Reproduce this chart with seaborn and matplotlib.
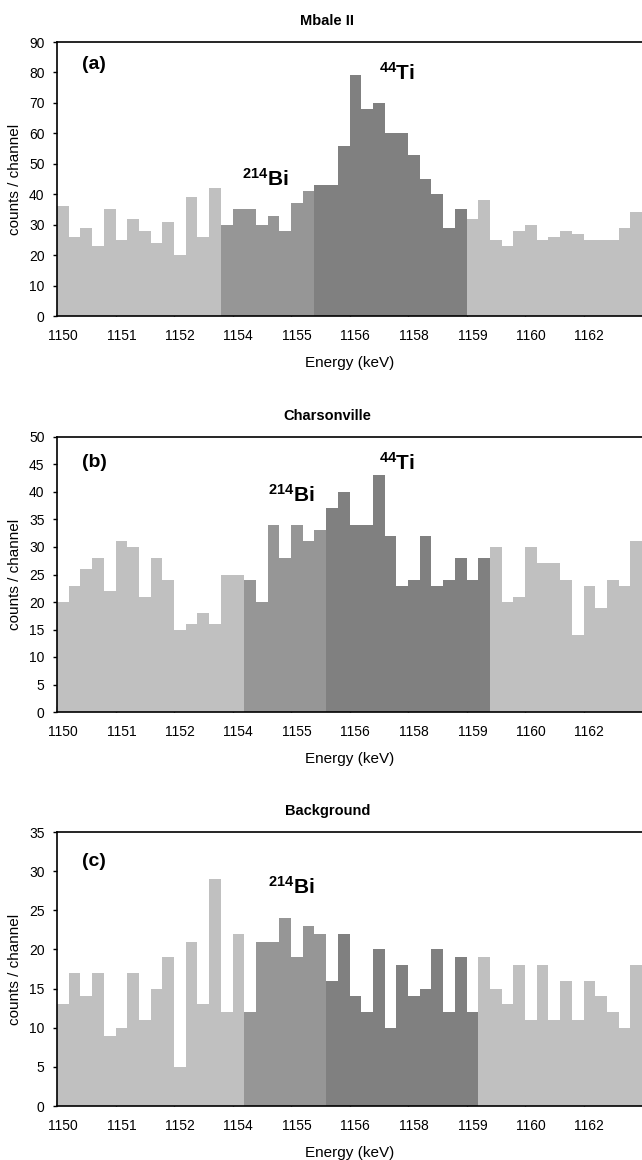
import matplotlib
matplotlib.use("Agg")
import matplotlib.pyplot as plt
import seaborn as sns
import numpy as np
import pandas as pd

# counts per channel (50 channels each)
mbale_counts = [36, 26, 29, 23, 35, 25, 32, 28, 24, 31, 20, 39, 26, 42,
                30, 35, 35, 30, 33, 28, 37, 41,
                43, 43, 56, 79, 68, 70, 60, 60, 53, 45, 40, 29, 35,
                32, 38, 25, 23, 28, 30, 25, 26, 28, 27, 25, 25, 25, 29, 34]
charson_counts = [20, 23, 26, 28, 22, 31, 30, 21, 28, 24, 15, 16, 18, 16, 25, 25,
                  24, 20, 34, 28, 34, 31, 33,
                  37, 40, 34, 34, 43, 32, 23, 24, 32, 23, 24, 28, 24, 28,
                  30, 20, 21, 30, 27, 27, 24, 14, 23, 19, 24, 23, 31]
backgr_counts = [13, 17, 14, 17, 9, 10, 17, 11, 15, 19, 5, 21, 13, 29, 12, 22,
                 12, 21, 21, 24, 19, 23, 22,
                 16, 22, 14, 12, 20, 10, 18, 14, 15, 20, 12, 19, 12,
                 19, 15, 13, 18, 11, 18, 11, 16, 11, 16, 14, 12, 10, 18]

# region of each channel: sideband / 214Bi window / 44Ti window
mbale_regions = ["side"] * 14 + ["bi"] * 8 + ["ti"] * 13 + ["side"] * 15
charson_regions = ["side"] * 16 + ["bi"] * 7 + ["ti"] * 14 + ["side"] * 13
backgr_regions = ["side"] * 16 + ["bi"] * 7 + ["ti"] * 13 + ["side"] * 14

tick_labels = ["1150", "1151", "1152", "1154", "1155", "1156", "1158", "1159", "1160", "1162"]

palette = {"side": "#c0c0c0", "bi": "#969696", "ti": "#808080"}

sns.set_theme(style="ticks")
plt.rcParams["font.family"] = ["Liberation Sans", "DejaVu Sans"]
plt.rcParams["mathtext.fontset"] = "custom"
plt.rcParams["mathtext.rm"] = "Liberation Sans"
plt.rcParams["mathtext.bf"] = "Liberation Sans:bold"
plt.rcParams["text.color"] = "black"
plt.rcParams["axes.labelcolor"] = "black"
plt.rcParams["xtick.color"] = "black"
plt.rcParams["ytick.color"] = "black"


def draw_panel(ax, counts, regions, ymax, ystep, title, tag, tag_y, labels):
    df = pd.DataFrame({"ch": np.arange(len(counts)), "counts": counts, "region": regions})
    sns.barplot(data=df, x="ch", y="counts", hue="region", palette=palette,
                dodge=False, width=1.0, saturation=1, errorbar=None,
                linewidth=0, legend=False, ax=ax)
    n = len(counts)
    ax.set_xlim(-0.5, n - 0.5)
    ax.set_ylim(0, ymax)
    ax.set_yticks(np.arange(0, ymax + 1, ystep))

    # tick marks on channel edges, labels centred on channels (every 5th)
    ax.set_xticks(np.arange(0, n, 5) - 0.5)
    ax.set_xticklabels([])
    ax.set_xticks(np.arange(0, n, 5), minor=True)
    ax.set_xticklabels(tick_labels, minor=True)
    ax.tick_params(axis="x", which="major", direction="in", length=4, width=1)
    ax.tick_params(axis="x", which="minor", length=0, pad=9, labelsize=10)
    ax.tick_params(axis="y", direction="out", length=3, width=1, pad=6, labelsize=10)

    for s in ["left", "bottom", "top"]:
        ax.spines[s].set_color("black")
        ax.spines[s].set_linewidth(1.2)
    ax.spines["right"].set_visible(False)

    ax.set_xlabel("Energy (keV)", fontsize=11)
    ax.set_ylabel("counts / channel", fontsize=11)
    ax.xaxis.set_label_coords(0.5, -0.145)
    ax.yaxis.set_label_coords(-0.06, 0.5)
    ax.set_title(title, fontsize=10.5, fontweight="bold", x=0.462, pad=12)

    ax.text(1.6, tag_y, tag, fontsize=14, fontweight="bold", va="center", ha="left")
    for txt, x, y in labels:
        ax.text(x, y, txt, fontsize=15, va="center", ha="left")


fig = plt.figure(figsize=(6.42, 11.6), dpi=100)
ax_a = fig.add_axes([57 / 642, 1 - 316 / 1160, 585 / 642, 274 / 1160])
ax_b = fig.add_axes([57 / 642, 1 - 712 / 1160, 585 / 642, 275 / 1160])
ax_c = fig.add_axes([57 / 642, 1 - 1106 / 1160, 585 / 642, 274 / 1160])

draw_panel(ax_a, mbale_counts, mbale_regions, 90, 10, "Mbale II", "(a)", 82.5,
           [(r"$\mathbf{{}^{44}Ti}$", 27, 80), (r"$\mathbf{{}^{214}Bi}$", 15.3, 45)])
draw_panel(ax_b, charson_counts, charson_regions, 50, 5, "Charsonville", "(b)", 45.3,
           [(r"$\mathbf{{}^{44}Ti}$", 27, 45.3), (r"$\mathbf{{}^{214}Bi}$", 17.5, 39.5)])
draw_panel(ax_c, backgr_counts, backgr_regions, 35, 5, "Background", "(c)", 31.2,
           [(r"$\mathbf{{}^{214}Bi}$", 17.5, 28)])

fig.savefig("out.png", dpi=100)
